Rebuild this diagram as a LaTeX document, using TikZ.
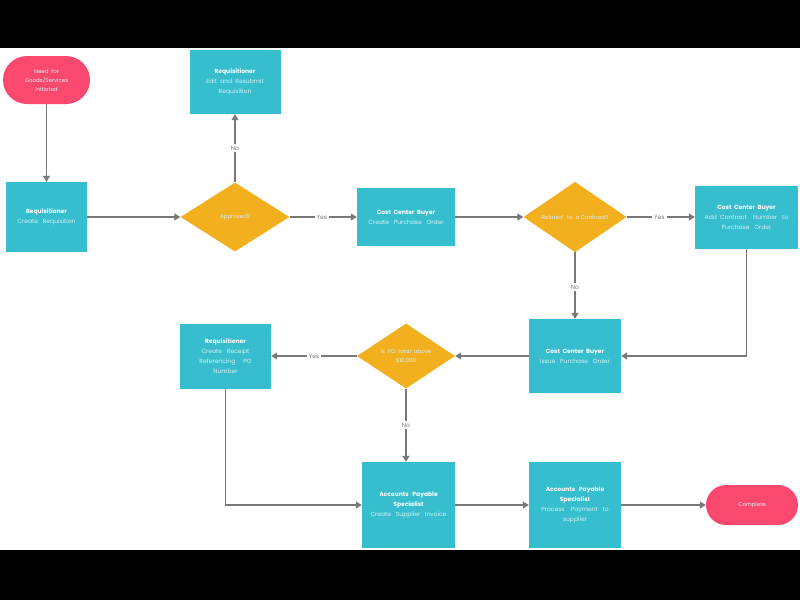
\documentclass[tikz,border=0pt]{standalone}
\usepackage{fontspec}
\setmainfont{Poppins}
\usetikzlibrary{shapes.geometric,shapes.misc,arrows.meta}
\definecolor{teal1}{RGB}{54,190,206}
\definecolor{gold1}{RGB}{242,176,30}
\definecolor{pink1}{RGB}{251,72,110}
\definecolor{line1}{RGB}{120,120,120}
\tikzset{
  box/.style={fill=teal1,draw=none,inner sep=1pt,align=center,text=white,font=\fontsize{6}{10}\selectfont},
  dec/.style={diamond,fill=gold1,draw=none,inner sep=0pt,align=center,text=white,font=\fontsize{5.5}{9}\selectfont},
  pill/.style={rounded rectangle,fill=pink1,draw=none,inner sep=0pt,align=center,text=white,font=\fontsize{5.5}{9}\selectfont},
  conn/.style={draw=line1,line width=1.2pt,-{Triangle[width=7pt,length=6pt]}},
  lab/.style={fill=white,text=line1,inner sep=2pt,font=\fontsize{6}{7}\selectfont},
}
\newcommand{\hd}[1]{\textbf{#1}}
\newcommand{\bd}[1]{{\color{white!80!teal1}#1}}
\begin{document}
\begin{tikzpicture}[x=1pt,y=-1pt]
\useasboundingbox (0,0) rectangle (800,600);
\fill[black] (0,0) rectangle (800,48);
\fill[black] (0,550) rectangle (800,600);
% nodes
\node[pill,minimum width=87pt,minimum height=48pt] (start) at (46.5,80) {\bd{Need\ \ for}\\\bd{Goods/Services}\\\bd{Initiated}};
\node[box,minimum width=91pt,minimum height=64pt] (edit) at (235,82) {\hd{Requisitioner}\\\bd{Edit\ \ and\ \ Resubmit}\\\bd{Requisition}};
\node[box,minimum width=81pt,minimum height=70pt] (create) at (46.5,217) {\hd{Requisitioner}\\\bd{Create\ \ \ Requisition}};
\node[dec,minimum width=109pt,minimum height=69pt] (appr) at (235,217) {\bd{Approved?}};
\node[box,minimum width=98pt,minimum height=58pt] (ccb1) at (406,217) {\hd{Cost\ \ Center\ \ Buyer}\\\bd{Create\ \ \ Purchase\ \ \ Order}};
\node[dec,minimum width=103pt,minimum height=65pt] (rel) at (575,217) {\bd{Related\ \ \ to\ \ a Contract?}};
\node[box,minimum width=103pt,minimum height=63pt] (ccb2) at (746.5,217) {\hd{Cost\ \ Center\ \ Buyer}\\\bd{Add\ \ Contract\ \ \ \ Number\ \ \ to}\\\bd{Purchase\ \ \ Order}};
\node[box,minimum width=92pt,minimum height=74pt] (ccb3) at (575,356) {\hd{Cost\ \ Center\ \ Buyer}\\\bd{Issue\ \ \ Purchase\ \ \ Order}};
\node[dec,minimum width=98pt,minimum height=65pt] (po) at (406,356) {\bd{Is\ \ PO\ \ total\ \ above}\\\bd{\$10,000}};
\node[box,minimum width=91pt,minimum height=65pt] (rcpt) at (225.5,356) {\hd{Requisitioner}\\\bd{Create\ \ \ Receipt}\\\bd{Referencing\ \ \ \ \ PO}\\\bd{Number}};
\node[box,minimum width=93pt,minimum height=86pt] (aps1) at (408.5,505) {\hd{Accounts\ \ \ Payable}\\\hd{Specialist}\\\bd{Create\ \ \ Supplier\ \ \ Invoice}};
\node[box,minimum width=92pt,minimum height=86pt] (aps2) at (575,505) {\hd{Accounts\ \ \ Payable}\\\hd{Specialist}\\\bd{Process\ \ \ \ Payment\ \ \ to}\\\bd{supplier}};
\node[pill,minimum width=92pt,minimum height=40pt] (done) at (752,505) {\bd{Complete}};
% connectors
\draw[conn] (start.south) -- (create.north);
\draw[conn] (create.east) -- (appr.west);
\draw[conn] (appr.north) -- node[lab,pos=0.5]{No} (edit.south);
\draw[conn] (appr.east) -- node[lab,pos=0.48]{Yes} (ccb1.west);
\draw[conn] (ccb1.east) -- (rel.west);
\draw[conn] (rel.east) -- node[lab,pos=0.48]{Yes} (ccb2.west);
\draw[conn] (rel.south) -- node[lab,pos=0.52]{No} (ccb3.north);
\draw[conn] (ccb2.south) |- (ccb3.east);
\draw[conn] (ccb3.west) -- (po.east);
\draw[conn] (po.west) -- node[lab,pos=0.5]{Yes} (rcpt.east);
\draw[conn] (po.south) -- node[lab,pos=0.5]{No} (po.south |- aps1.north);
\draw[conn] (rcpt.south) |- (aps1.west);
\draw[conn] (aps1.east) -- (aps2.west);
\draw[conn] (aps2.east) -- (done.west);
\end{tikzpicture}
\end{document}
